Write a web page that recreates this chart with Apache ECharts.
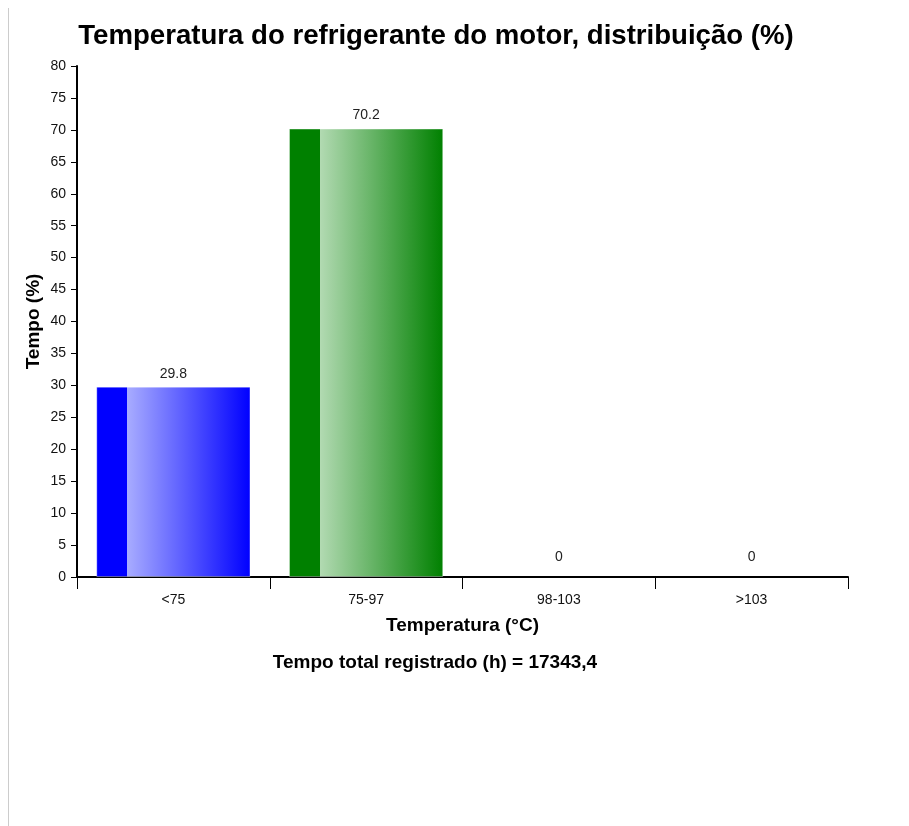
<!DOCTYPE html>
<html>
<head>
<meta charset="utf-8">
<script src="https://cdn.jsdelivr.net/npm/echarts@6/dist/echarts.min.js"></script>
<style>
html,body{margin:0;padding:0;background:#fff;}
#chart{width:909px;height:826px;}
</style>
</head>
<body>
<div id="chart"></div>
<script>
var categories = ['<75', '75-97', '98-103', '>103'];
var values = [29.8, 70.2, 0, 0];
var yTicks = [0, 80, 5];
var titleText = 'Temperatura do refrigerante do motor, distribuição (%)';
var subText = 'Tempo total registrado (h) = 17343,4';
var barColors = [
  ['#0000ff', '#a8acff'],
  ['#008000', '#b2dab2'],
  ['#ff0000', '#ffb0b0'],
  ['#800000', '#d0a0a0']
];

var FONT = 'Liberation Sans, Arial, sans-serif';

function grad(c) {
  return {
    type: 'linear', x: 0, y: 0, x2: 1, y2: 0,
    colorStops: [
      {offset: 0, color: c[0]},
      {offset: 0.2, color: c[0]},
      {offset: 0.2001, color: c[1]},
      {offset: 1, color: c[0]}
    ]
  };
}

var data = values.map(function (v, i) {
  return {
    value: v,
    itemStyle: {color: grad(barColors[i]), borderColor: 'rgba(255,255,255,0.35)', borderWidth: v === 0 ? 0 : 1},
    label: {distance: v === 0 ? 13 : 6}
  };
});

var chart = echarts.init(document.getElementById('chart'), null, {renderer: 'canvas'});
chart.setOption({
  animation: false,
  backgroundColor: '#fff',
  title: [{
    text: titleText,
    left: 431, top: 17, textAlign: 'center',
    textStyle: {fontFamily: FONT, fontSize: 27.6, fontWeight: 'bold', color: '#000'}
  }, {
    text: subText,
    left: 430, top: 648, textAlign: 'center',
    textStyle: {fontFamily: FONT, fontSize: 19, fontWeight: 'bold', color: '#000'}
  }],
  grid: {left: 77, right: 61, top: 66, bottom: 249, containLabel: false},
  xAxis: {
    type: 'category',
    data: categories,
    name: 'Temperatura (°C)',
    nameLocation: 'middle',
    nameGap: 39,
    nameMoveOverlap: false,
    nameTextStyle: {fontFamily: FONT, fontSize: 19, fontWeight: 'bold', color: '#000'},
    axisLine: {lineStyle: {color: '#000', width: 2}},
    axisTick: {show: true, length: 12, lineStyle: {color: '#000', width: 1}},
    axisLabel: {fontFamily: FONT, fontSize: 14, color: '#111', margin: 16},
    splitLine: {show: false}
  },
  yAxis: {
    type: 'value',
    min: yTicks[0], max: yTicks[1], interval: yTicks[2],
    name: 'Tempo (%)',
    nameLocation: 'middle',
    nameGap: 34,
    nameMoveOverlap: false,
    nameTextStyle: {fontFamily: FONT, fontSize: 19, fontWeight: 'bold', color: '#000'},
    axisLine: {show: true, lineStyle: {color: '#000', width: 2}},
    axisTick: {show: true, length: 6, lineStyle: {color: '#000', width: 1}},
    axisLabel: {fontFamily: FONT, fontSize: 14, color: '#111', margin: 11},
    splitLine: {show: false}
  },
  series: [{
    type: 'bar',
    data: data,
    barCategoryGap: '20%',
    label: {
      show: true, position: 'top',
      fontFamily: FONT, fontSize: 14, color: '#222'
    }
  }],
  graphic: [{
    type: 'line',
    shape: {x1: 8.5, y1: 8, x2: 8.5, y2: 826},
    style: {stroke: '#cccccc', lineWidth: 1},
    silent: true
  }]
});
</script>
</body>
</html>
